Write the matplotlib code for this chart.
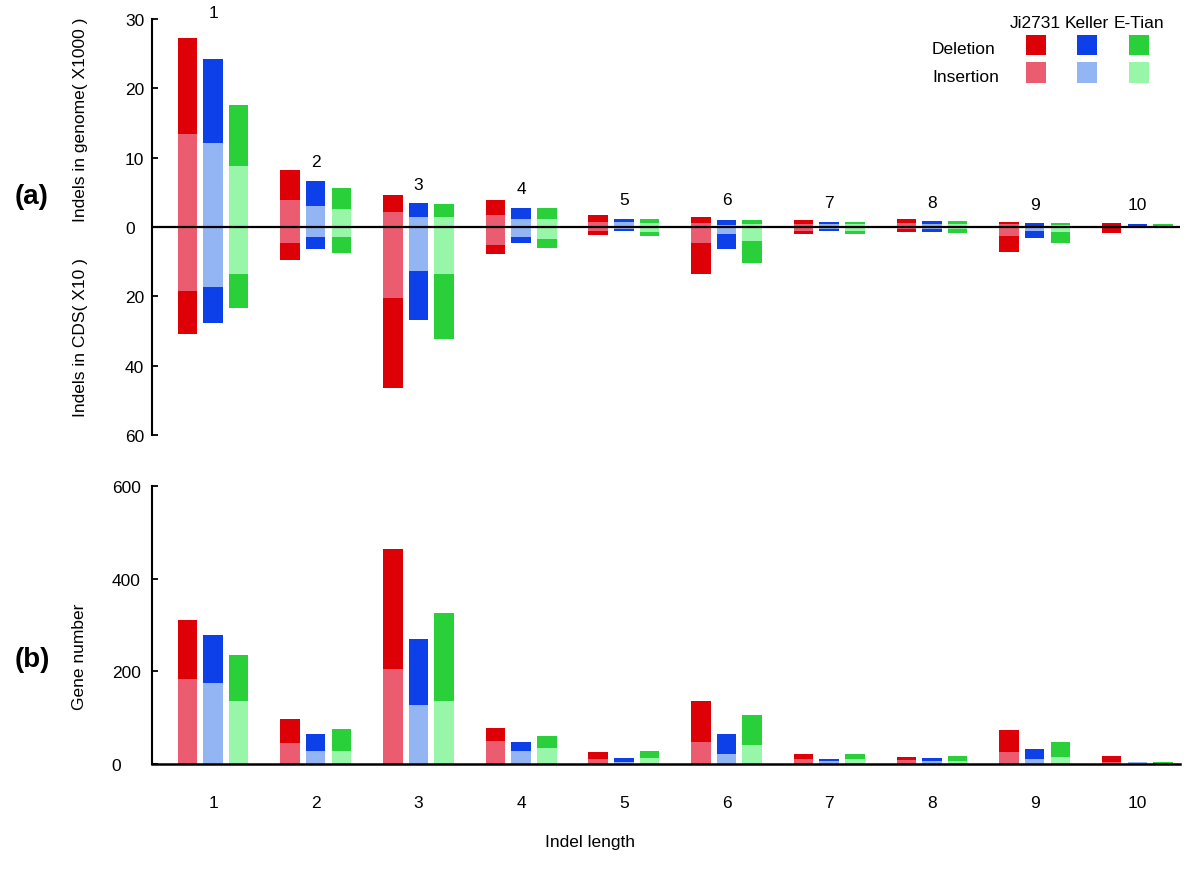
import matplotlib
matplotlib.use("Agg")
import matplotlib.pyplot as plt
from matplotlib.patches import Rectangle
import numpy as np

plt.rcParams['font.family'] = ['Liberation Sans', 'DejaVu Sans']

# ---------------- data ----------------
lengths = [1, 2, 3, 4, 5, 6, 7, 8, 9, 10]
cultivars = ["Ji2731", "Keller", "E-Tian"]

# Indels in genome (x1000): insertion and deletion (stacked; insertion first)
genome_ins = {
    "Ji2731": [13.4, 3.9, 2.12, 1.73, 0.77, 0.58, 0.43, 0.58, 0.48, 0.18],
    "Keller": [12.1, 3.03, 1.49, 1.15, 0.67, 0.34, 0.38, 0.48, 0.19, 0.08],
    "E-Tian": [8.85, 2.55, 1.40, 1.20, 0.58, 0.43, 0.38, 0.38, 0.29, 0.08],
}
genome_del = {
    "Ji2731": [13.9, 4.28, 2.45, 2.17, 0.91, 0.86, 0.57, 0.62, 0.29, 0.45],
    "Keller": [12.2, 3.61, 1.93, 1.54, 0.43, 0.62, 0.34, 0.39, 0.34, 0.30],
    "E-Tian": [8.8, 3.03, 1.87, 1.54, 0.52, 0.57, 0.34, 0.49, 0.29, 0.30],
}
# Indels in CDS (x10)
cds_ins = {
    "Ji2731": [18.4, 4.7, 20.6, 5.1, 1.1, 4.6, 1.06, 0.58, 2.5, 0.2],
    "Keller": [17.4, 3.0, 12.8, 3.0, 0.58, 2.1, 0.5, 0.67, 1.06, 0.05],
    "E-Tian": [13.65, 3.0, 13.7, 3.5, 1.35, 4.1, 1.15, 0.58, 1.54, 0.05],
}
cds_del = {
    "Ji2731": [12.5, 4.8, 25.7, 2.7, 1.3, 9.1, 1.04, 0.96, 4.8, 1.5],
    "Keller": [10.3, 3.35, 13.9, 1.7, 0.67, 4.25, 0.65, 0.68, 2.02, 0.33],
    "E-Tian": [9.75, 4.5, 18.6, 2.6, 1.35, 6.4, 0.95, 1.05, 2.96, 0.33],
}
# Gene number: insertion and deletion (stacked)
gene_ins = {
    "Ji2731": [183, 46, 205, 50, 11, 47, 10, 8, 25, 5],
    "Keller": [175, 29, 127, 29, 5, 22, 6, 6, 11, 4],
    "E-Tian": [137, 29, 137, 34, 13, 41, 11, 7, 15, 1],
}
gene_del = {
    "Ji2731": [127, 51, 259, 28, 14, 90, 12, 8, 49, 13],
    "Keller": [104, 36, 142, 18, 8, 42, 5, 7, 21, 1],
    "E-Tian": [98, 46, 188, 27, 15, 65, 11, 10, 32, 4],
}

ytick_top_vals = [30, 20, 10, 0, -10, -20, -30]
ytick_top_labels = ["30", "20", "10", "0", "20", "40", "60"]
ytick_bot_vals = [0, 200, 400, 600]
group_label_y = [31.0, 9.4, 6.2, 5.5, 4.0, 3.9, 3.5, 3.6, 3.2, 3.2]

# ---------------- styles ----------------
dark = {"Ji2731": "#DD0006", "Keller": "#0D40E8", "E-Tian": "#2AD03A"}
light = {"Ji2731": "#EC5C70", "Keller": "#93B5F4", "E-Tian": "#98F6A8"}
offsets = {"Ji2731": -0.25, "Keller": 0.0, "E-Tian": 0.25}
width = 0.19
CDS_SCALE = 0.5   # CDS (x10) axis: 20 units occupy same height as 10 genome units
FS = 12.5

W, H = 1200, 878
fig = plt.figure(figsize=(W / 100, H / 100), dpi=100)

left = 152 / W
aw = (1180 - 152) / W
ax1 = fig.add_axes([left, 1 - 436 / H, aw, 416 / H])
ax2 = fig.add_axes([left, 1 - 765 / H, aw, 278 / H])

x = np.array(lengths, dtype=float)
xlim = (0.406, 10.415)

# ---------- panel (a) ----------
for c in cultivars:
    xi = x + offsets[c]
    gi = np.array(genome_ins[c]); gd = np.array(genome_del[c])
    ci = np.array(cds_ins[c]) * CDS_SCALE; cd = np.array(cds_del[c]) * CDS_SCALE
    ax1.bar(xi, gi, width, color=light[c], linewidth=0)
    ax1.bar(xi, gd, width, bottom=gi, color=dark[c], linewidth=0)
    ax1.bar(xi, -ci, width, color=light[c], linewidth=0)
    ax1.bar(xi, -cd, width, bottom=-ci, color=dark[c], linewidth=0)

ax1.axhline(0, color="black", lw=1.6, zorder=5)
ax1.set_xlim(*xlim)
ax1.set_ylim(-30, 30)
for s in ["top", "right", "bottom"]:
    ax1.spines[s].set_visible(False)
ax1.spines["left"].set_linewidth(1.5)
ax1.set_xticks([])
ax1.set_yticks(ytick_top_vals)
ax1.set_yticklabels(ytick_top_labels)
ax1.tick_params(axis="y", direction="in", length=4, width=1.3, pad=19.5, labelsize=FS)
for lab in ax1.get_yticklabels():
    lab.set_horizontalalignment("left")

for xv, yv, n in zip(x, group_label_y, lengths):
    ax1.text(xv, yv, str(n), ha="center", va="center", fontsize=FS, clip_on=False)

# ---------- panel (b) ----------
for c in cultivars:
    xi = x + offsets[c]
    gi = np.array(gene_ins[c]); gd = np.array(gene_del[c])
    ax2.bar(xi, gi, width, color=light[c], linewidth=0)
    ax2.bar(xi, gd, width, bottom=gi, color=dark[c], linewidth=0)

ax2.set_xlim(*xlim)
ax2.set_ylim(0, 600)
for s in ["top", "right"]:
    ax2.spines[s].set_visible(False)
ax2.spines["left"].set_linewidth(1.5)
ax2.spines["bottom"].set_linewidth(1.8)
ax2.set_xticks(x)
ax2.set_xticklabels([str(n) for n in lengths])
ax2.tick_params(axis="x", length=0, pad=22, labelsize=FS)
ax2.set_yticks(ytick_bot_vals)
ax2.tick_params(axis="y", direction="in", length=4, width=1.3, pad=29, labelsize=FS)
for lab in ax2.get_yticklabels():
    lab.set_horizontalalignment("left")

# ---------- labels ----------
def fx(px): return px / W
def fy(py): return 1 - py / H

fig.text(fx(81), fy(120), "Indels in genome( X1000 )", rotation=90, ha="center", va="center", fontsize=FS)
fig.text(fx(80), fy(338), "Indels in CDS( X10 )", rotation=90, ha="center", va="center", fontsize=FS)
fig.text(fx(80), fy(657), "Gene number", rotation=90, ha="center", va="center", fontsize=FS)
fig.text(fx(32), fy(197), "(a)", ha="center", va="center", fontsize=20, fontweight="bold")
fig.text(fx(32), fy(660), "(b)", ha="center", va="center", fontsize=20, fontweight="bold")
fig.text(fx(590), fy(843), "Indel length", ha="center", va="center", fontsize=FS)

# ---------- legend ----------
leg_x = {"Ji2731": 1035.5, "Keller": 1087, "E-Tian": 1138.5}
for c in cultivars:
    fig.text(fx(leg_x[c]), fy(23), c, ha="center", va="center", fontsize=FS)
    fig.add_artist(Rectangle((fx(leg_x[c] - 10), fy(56)), 20 / W, 20 / H,
                             transform=fig.transFigure, color=dark[c], lw=0))
    fig.add_artist(Rectangle((fx(leg_x[c] - 10), fy(84)), 20 / W, 21 / H,
                             transform=fig.transFigure, color=light[c], lw=0))
fig.text(fx(932), fy(49), "Deletion", ha="left", va="center", fontsize=FS)
fig.text(fx(932), fy(77), "Insertion", ha="left", va="center", fontsize=FS)

fig.savefig("out.png", dpi=100)
